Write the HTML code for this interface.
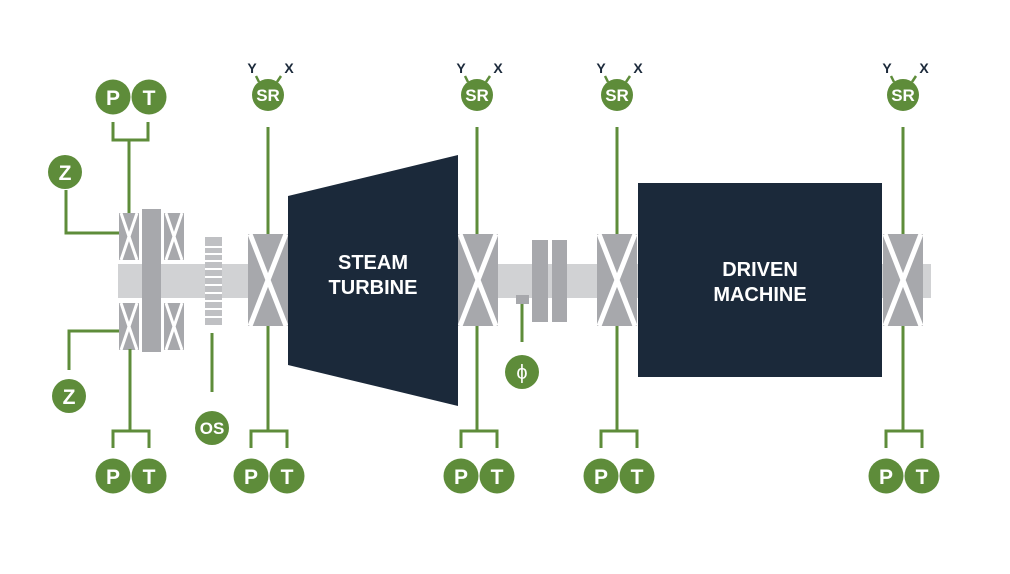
<!DOCTYPE html>
<html><head><meta charset="utf-8"><style>html,body{margin:0;padding:0;background:#fff}svg{display:block}</style></head>
<body>
<svg width="1010" height="574" viewBox="0 0 1010 574" xmlns="http://www.w3.org/2000/svg" font-family="Liberation Sans, sans-serif">
<defs>
<g id="brg">
<rect x="0" y="0" width="40" height="92" fill="#a7a8ac"/>
<path d="M2,0 L38,92 M38,0 L2,92" stroke="#fff" stroke-width="5"/>
</g>
<g id="sbrg">
<rect x="0" y="0" width="20" height="47" fill="#a7a8ac"/>
<path d="M2,0 L18,47 M18,0 L2,47" stroke="#fff" stroke-width="3"/>
</g>
</defs>
<!-- shaft -->
<rect x="118" y="264" width="813" height="34" fill="#d1d2d4"/>
<rect x="498" y="258" width="0" height="0"/>
<!-- thrust bearing -->
<use href="#sbrg" x="119" y="213"/>
<use href="#sbrg" x="119" y="303"/>
<use href="#sbrg" x="164" y="213"/>
<use href="#sbrg" x="164" y="303"/>
<rect x="142" y="209" width="19" height="143" fill="#a7a8ac"/>
<!-- OS wheel -->
<rect x="205" y="237" width="17" height="88" fill="#bfc0c3"/>
<g fill="#fff">
<rect x="205" y="246" width="17" height="2"/><rect x="205" y="253" width="17" height="2"/>
<rect x="205" y="260" width="17" height="2"/><rect x="205" y="268" width="17" height="2"/>
<rect x="205" y="276" width="17" height="2"/><rect x="205" y="284" width="17" height="2"/>
<rect x="205" y="292" width="17" height="2"/><rect x="205" y="300" width="17" height="2"/>
<rect x="205" y="308" width="17" height="2"/><rect x="205" y="316" width="17" height="2"/>
</g>
<!-- bearings -->
<use href="#brg" x="248" y="234"/>
<use href="#brg" x="458" y="234"/>
<use href="#brg" x="597" y="234"/>
<use href="#brg" x="883" y="234"/>
<!-- coupling -->
<rect x="532" y="240" width="16" height="82" fill="#a7a8ac"/>
<rect x="552" y="240" width="15" height="82" fill="#a7a8ac"/>
<rect x="516" y="295" width="13" height="9" fill="#a7a8ac"/>
<!-- machines -->
<polygon points="288,196 458,155 458,406 288,365" fill="#1b293a"/>
<rect x="638" y="183" width="244" height="194" fill="#1b293a"/>
<g fill="#fff" font-weight="bold" font-size="20" text-anchor="middle">
<text x="373" y="269">STEAM</text><text x="373" y="294">TURBINE</text>
<text x="760" y="276">DRIVEN</text><text x="760" y="301">MACHINE</text>
</g>
<!-- green lines -->
<g stroke="#5e8c3a" stroke-width="3" fill="none">
<path d="M129,213 V140 M113,122 V140 H148 V122"/>
<path d="M66,190 V233 H119"/>
<path d="M119,331 H69 V370"/>
<path d="M130,349 V431 M113,448 V431 H149 V448"/>
<path d="M212,333 V392"/>
<path d="M522,304 V342"/>
<path d="M268,127 V234 M268,326 V431 M251,448 V431 H287 V448"/>
<path d="M477,127 V234 M477,326 V431 M461,448 V431 H497 V448"/>
<path d="M617,127 V234 M617,326 V431 M601,448 V431 H637 V448"/>
<path d="M903,127 V234 M903,326 V431 M886,448 V431 H922 V448"/>
</g>
<!-- circles -->
<g fill="#5e8c3a">
<circle cx="113" cy="97" r="17.5"/><circle cx="149" cy="97" r="17.5"/>
<circle cx="65" cy="172" r="17"/><circle cx="69" cy="396" r="17"/>
<circle cx="212" cy="428" r="17"/><circle cx="522" cy="372" r="17"/>
<circle cx="113" cy="476" r="17.5"/><circle cx="149" cy="476" r="17.5"/>
<circle cx="251" cy="476" r="17.5"/><circle cx="287" cy="476" r="17.5"/>
<circle cx="461" cy="476" r="17.5"/><circle cx="497" cy="476" r="17.5"/>
<circle cx="601" cy="476" r="17.5"/><circle cx="637" cy="476" r="17.5"/>
<circle cx="886" cy="476" r="17.5"/><circle cx="922" cy="476" r="17.5"/>
<circle cx="268" cy="95" r="16"/><circle cx="477" cy="95" r="16"/>
<circle cx="617" cy="95" r="16"/><circle cx="903" cy="95" r="16"/>
</g>
<g stroke="#5e8c3a" stroke-width="2.5">
<path d="M259,82 L256,76 M277,82 L281,76"/>
<path d="M468,82 L465,76 M486,82 L490,76"/>
<path d="M608,82 L605,76 M626,82 L630,76"/>
<path d="M894,82 L891,76 M912,82 L916,76"/>
</g>
<g fill="#fff" font-weight="bold" text-anchor="middle" font-size="21">
<text x="113" y="105">P</text><text x="149" y="105">T</text>
<text x="113" y="484">P</text><text x="149" y="484">T</text>
<text x="251" y="484">P</text><text x="287" y="484">T</text>
<text x="461" y="484">P</text><text x="497" y="484">T</text>
<text x="601" y="484">P</text><text x="637" y="484">T</text>
<text x="886" y="484">P</text><text x="922" y="484">T</text>
<text x="65" y="180">Z</text><text x="69" y="404">Z</text>
</g>
<g fill="#fff" font-weight="bold" text-anchor="middle" font-size="17">
<text x="268" y="101">SR</text><text x="477" y="101">SR</text>
<text x="617" y="101">SR</text><text x="903" y="101">SR</text>
<text x="212" y="434">OS</text>
<text x="522" y="379" font-weight="normal" font-size="20">ϕ</text>
</g>
<g fill="#1b293a" font-weight="bold" text-anchor="middle" font-size="14">
<text x="252" y="73">Y</text><text x="289" y="73">X</text>
<text x="461" y="73">Y</text><text x="498" y="73">X</text>
<text x="601" y="73">Y</text><text x="638" y="73">X</text>
<text x="887" y="73">Y</text><text x="924" y="73">X</text>
</g>
</svg>
</body></html>
